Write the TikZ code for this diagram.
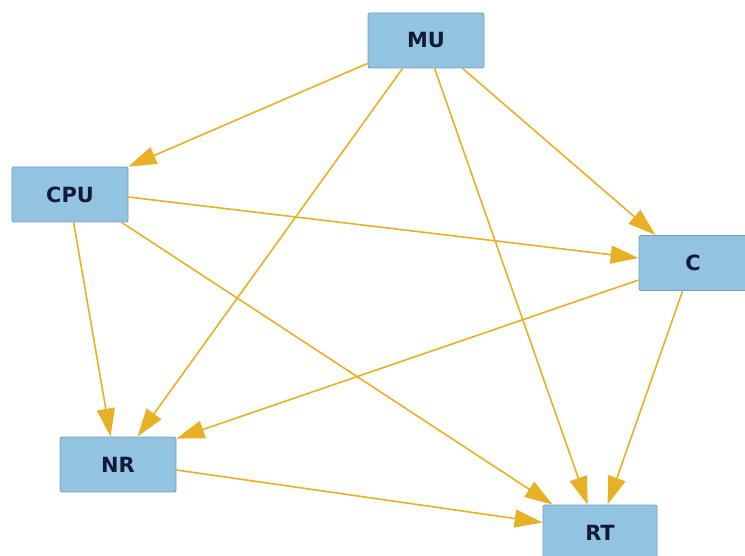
\documentclass[tikz,border=0pt]{standalone}
\usepackage{fontspec}
\setmainfont{DejaVu Sans}
\usetikzlibrary{arrows.meta,calc}
\definecolor{boxfill}{RGB}{146,196,225}
\definecolor{boxline}{RGB}{112,160,192}
\definecolor{boxtext}{RGB}{18,26,58}
\definecolor{edgecol}{RGB}{232,176,36}
\tikzset{
  unit/.style={draw=boxline, line width=0.8bp, fill=boxfill, rounded corners=2bp,
    minimum width=116bp, minimum height=55bp, inner sep=0pt,
    text=boxtext, font=\fontsize{21}{25}\selectfont\bfseries},
  link/.style={draw=edgecol, line width=1.6bp,
    -{Triangle[length=28bp,width=18bp]}},
}
\begin{document}
\begin{tikzpicture}[x=1bp,y=-1bp]
\useasboundingbox (0,0) rectangle (745,556);
\begin{scope}
\clip (0,0) rectangle (745,556);
\node[unit] (MU)  at (426,40.5)  {MU};
\node[unit] (CPU) at (70,194.5)  {CPU};
\node[unit, minimum width=108bp] (C) at (693,263) {C};
\node[unit] (NR)  at (118,464.5) {NR};
\node[unit, minimum width=114bp] (RT) at (600,532.5) {RT};
\end{scope}
% connectors
\draw[link] ($(MU.south west)+(0,-5)$) -- (CPU.north east);
\draw[link] ($(MU.south west)+(35,0)$) -- ($(NR.north west)+(78,0)$);
\draw[link] ($(MU.south west)+(67,0)$) -- ($(RT.north west)+(45,0)$);
\draw[link] ($(MU.south west)+(95,0)$) -- ($(C.north west)+(17,0)$);
\draw[link] ($(CPU.east)+(0,2.5)$) -- ($(C.west)+(0,-5)$);
\draw[link] ($(CPU.south west)+(62,0)$) -- ($(NR.north west)+(51,0)$);
\draw[link] ($(CPU.south west)+(110,0)$) -- ($(RT.north west)+(10,0)$);
\draw[link] ($(C.west)+(0,17)$) -- ($(NR.north east)+(0,2)$);
\draw[link] ($(C.south west)+(44,0)$) -- ($(RT.north west)+(65,0)$);
\draw[link] ($(NR.east)+(0,5.5)$) -- ($(RT.west)+(0,-10)$);
\end{tikzpicture}
\end{document}
